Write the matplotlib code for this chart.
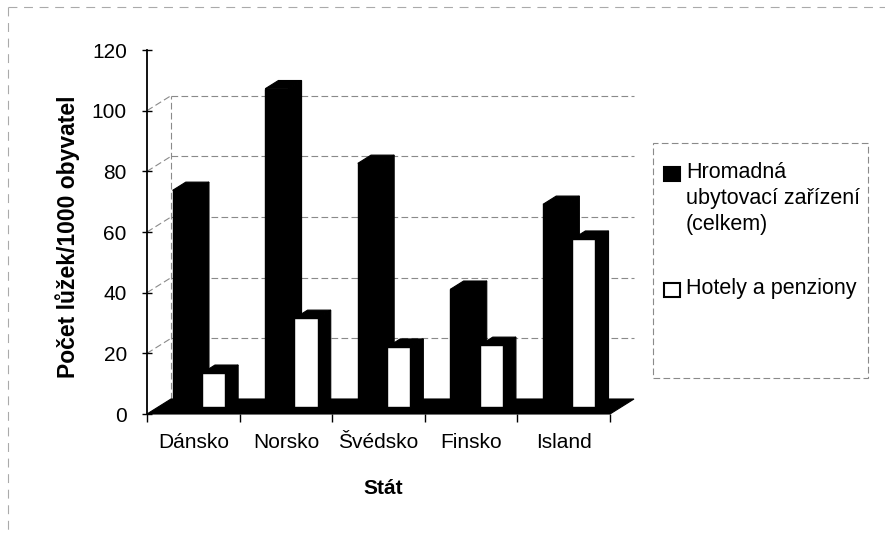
import matplotlib
matplotlib.use("Agg")
import matplotlib.pyplot as plt
from matplotlib.patches import Polygon, Rectangle
from matplotlib.lines import Line2D

# Data: beds per 1000 inhabitants
countries = ["Dánsko", "Norsko", "Švédsko", "Finsko", "Island"]
beds_total = [71.5, 105.0, 80.4, 38.9, 66.9]
beds_hotels = [11.2, 29.3, 19.8, 20.4, 55.4]
series_names = ["Hromadná\nubytovací zařízení\n(celkem)", "Hotely a penziony"]
y_ticks = [0, 20, 40, 60, 80, 100, 120]
x_title = "Stát"
y_title = "Počet lůžek/1000 obyvatel"

W, H = 885, 534
plt.rcParams['font.family'] = ['Liberation Sans', 'DejaVu Sans']
fig = plt.figure(figsize=(W / 100, H / 100), dpi=100)


def fx(x):
    return x / W


def fy(y):
    return 1 - y / H


# Front plane of the pseudo-3D box
ax = fig.add_axes([fx(147), fy(414), (610 - 147) / W, (414 - 50) / H])
ax.set_xlim(0, len(countries))
ax.set_ylim(y_ticks[0], y_ticks[-1])
ax.patch.set_alpha(0)

# depth of the box expressed in data units
DX = 24 / ((610 - 147) / len(countries))
DY = 15 / ((414 - 50) / (y_ticks[-1] - y_ticks[0]))

grid_kw = dict(color="#8a8a8a", lw=0.8, ls=(0, (6, 3)), clip_on=False, zorder=1)
n = len(countries)
for v in y_ticks[1:-1]:
    ax.plot([DX, n + DX], [v + DY, v + DY], **grid_kw)
    ax.plot([0, DX], [v, v + DY], **grid_kw)
ax.plot([DX, DX], [DY, y_ticks[-2] + DY], **grid_kw)

# floor
ax.add_patch(Polygon([(0, 0), (n, 0), (n + DX, DY), (DX, DY)], closed=True,
                     facecolor="black", edgecolor="black", lw=0.8,
                     clip_on=False, zorder=2))

D0, D1 = 0.45, 1.0
BAR_W = 0.25
offsets = [0.16, 0.475]
colors = ["black", "white"]


def bar3d(x0, h, face):
    dd = D1 - D0
    xf = x0 + D0 * DX
    yf = D0 * DY
    ex, ey = dd * DX, dd * DY
    side = [(xf + BAR_W, yf), (xf + BAR_W + ex, yf + ey),
            (xf + BAR_W + ex, yf + h + ey), (xf + BAR_W, yf + h)]
    top = [(xf, yf + h), (xf + BAR_W, yf + h),
           (xf + BAR_W + ex, yf + h + ey), (xf + ex, yf + h + ey)]
    for poly in (side, top):
        ax.add_patch(Polygon(poly, closed=True, facecolor="black",
                             edgecolor="black", lw=0.8, clip_on=False, zorder=3))
    ax.add_patch(Rectangle((xf, yf), BAR_W, h, facecolor=face,
                           edgecolor="black", lw=1.0, clip_on=False, zorder=3))


for i in range(n):
    for vals, off, col in zip((beds_total, beds_hotels), offsets, colors):
        bar3d(i + off, vals[i], col)

# axes styling
for s in ("top", "right", "bottom"):
    ax.spines[s].set_visible(False)
ax.spines["left"].set_linewidth(1.3)
ax.spines["left"].set_zorder(4)
ax.set_yticks(y_ticks)
ax.tick_params(axis="y", direction="inout", length=7, width=1, pad=11,
               labelsize=15)
ax.set_xticks(range(n + 1))
ax.set_xticklabels([])
ax.tick_params(axis="x", which="major", direction="out", length=6, width=1)
ax.set_xticks([i + 0.5 for i in range(n)], minor=True)
ax.set_xticklabels(countries, minor=True)
ax.tick_params(axis="x", which="minor", length=0, pad=14, labelsize=15)

fig.text(fx(383), fy(488), x_title, ha="center", va="center",
         fontsize=15, fontweight="bold")
fig.text(fx(68), fy(237), y_title, ha="center", va="center", rotation=90,
         fontsize=16.5, fontweight="bold")

# legend
fig.add_artist(Rectangle((fx(653), fy(378)), (868 - 653) / W, (378 - 143) / H,
                         transform=fig.transFigure, fill=False,
                         edgecolor="#8a8a8a", lw=0.8, ls=(0, (6, 3))))
legend_y = [167, 283]
for name, col, y0 in zip(series_names, colors, legend_y):
    fig.add_artist(Rectangle((fx(664), fy(y0 + 14)), 16 / W, 14 / H,
                             transform=fig.transFigure, facecolor=col,
                             edgecolor="black", lw=1.5))
    fig.text(fx(686), fy(y0 - 5), name, ha="left", va="top", fontsize=15.5,
             linespacing=1.3)

# outer frame
frame_kw = dict(color="#aaaaaa", lw=0.8, ls=(0, (8, 6)),
                transform=fig.transFigure)
fig.add_artist(Line2D([fx(8), 1], [fy(7), fy(7)], **frame_kw))
fig.add_artist(Line2D([fx(8), fx(8)], [fy(7), 0], **frame_kw))

fig.savefig("out.png", dpi=100)
